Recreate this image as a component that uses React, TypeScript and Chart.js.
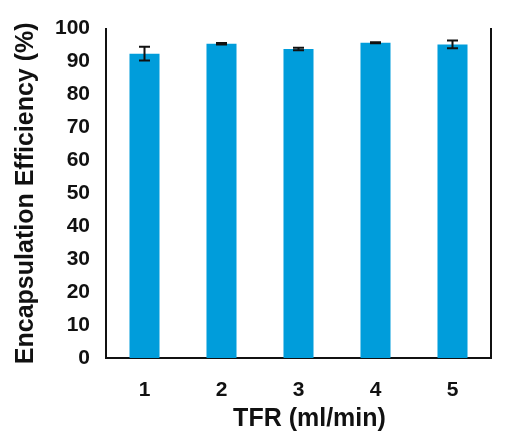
import React, { useEffect, useRef } from "react";
import { Chart, registerables } from "chart.js";

Chart.register(...registerables);

const categories = ["1", "2", "3", "4", "5"];
const efficiency = [92.4, 95.4, 93.8, 95.7, 95.2];
const errors = [2.1, 0.2, 0.4, 0.15, 1.15];
const yTitle = "Encapsulation Efficiency (%)";
const xTitle = "TFR (ml/min)";

const FONT = "'Liberation Sans', Arial, sans-serif";

const errorBarPlugin = {
  id: "errorBars",
  afterDatasetsDraw(chart: any) {
    const ctx = chart.ctx;
    const meta = chart.getDatasetMeta(0);
    const y = chart.scales.y;
    ctx.save();
    ctx.strokeStyle = "#111";
    ctx.lineWidth = 2;
    meta.data.forEach((bar: any, i: number) => {
      const x = bar.x;
      const hi = y.getPixelForValue(efficiency[i] + errors[i]);
      const lo = y.getPixelForValue(efficiency[i] - errors[i]);
      const cap = 5.5;
      ctx.beginPath();
      ctx.moveTo(x, hi);
      ctx.lineTo(x, lo);
      ctx.moveTo(x - cap, hi);
      ctx.lineTo(x + cap, hi);
      ctx.moveTo(x - cap, lo);
      ctx.lineTo(x + cap, lo);
      ctx.stroke();
    });
    ctx.restore();
  },
};

const xTitlePlugin = {
  id: "xTitle",
  afterDraw(chart: any) {
    const ctx = chart.ctx;
    const area = chart.chartArea;
    ctx.save();
    ctx.fillStyle = "#111";
    ctx.font = `bold 25px ${FONT}`;
    ctx.textAlign = "center";
    ctx.textBaseline = "middle";
    ctx.fillText(xTitle, (area.left + area.right) / 2 + 11, 419);
    ctx.restore();
  },
};

export default function App() {
  const ref = useRef<HTMLCanvasElement>(null);

  useEffect(() => {
    document.body.style.margin = "0";
    const chart = new Chart(ref.current as HTMLCanvasElement, {
      type: "bar",
      data: {
        labels: categories,
        datasets: [
          {
            data: efficiency,
            backgroundColor: "#009ddb",
            borderWidth: 0,
            categoryPercentage: 1,
            barPercentage: 0.39,
          },
        ],
      },
      options: {
        animation: false,
        responsive: false,
        maintainAspectRatio: false,
        layout: { padding: { top: 25, right: 21, left: 0, bottom: 0 } },
        plugins: { legend: { display: false }, tooltip: { enabled: false } },
        scales: {
          x: {
            grid: { display: false, drawTicks: false },
            border: { display: true, color: "#111", width: 2 },
            ticks: {
              color: "#111",
              font: { family: FONT, size: 21, weight: "bold" },
              padding: 20,
            },
            afterFit: (s: any) => {
              s.height = 79;
            },
          },
          y: {
            min: 0,
            max: 100,
            grid: { display: false, drawTicks: false },
            border: { display: true, color: "#111", width: 2 },
            ticks: {
              stepSize: 10,
              color: "#111",
              font: { family: FONT, size: 21, weight: "bold" },
              padding: 16,
            },
            title: {
              display: true,
              text: yTitle,
              color: "#111",
              font: { family: FONT, size: 25, weight: "bold" },
              padding: { top: 11, bottom: 0 },
            },
            afterFit: (s: any) => {
              s.width = 106;
            },
          },
          y2: {
            position: "right",
            min: 0,
            max: 100,
            grid: { display: false, drawTicks: false },
            border: { display: true, color: "#111", width: 2 },
            ticks: { display: false },
            afterFit: (s: any) => {
              s.width = 0;
            },
          },
        },
      },
      plugins: [errorBarPlugin, xTitlePlugin],
    });
    return () => chart.destroy();
  }, []);

  return (
    <div style={{ width: 512, height: 437, background: "#fff" }}>
      <canvas ref={ref} width={512} height={437} />
    </div>
  );
}
